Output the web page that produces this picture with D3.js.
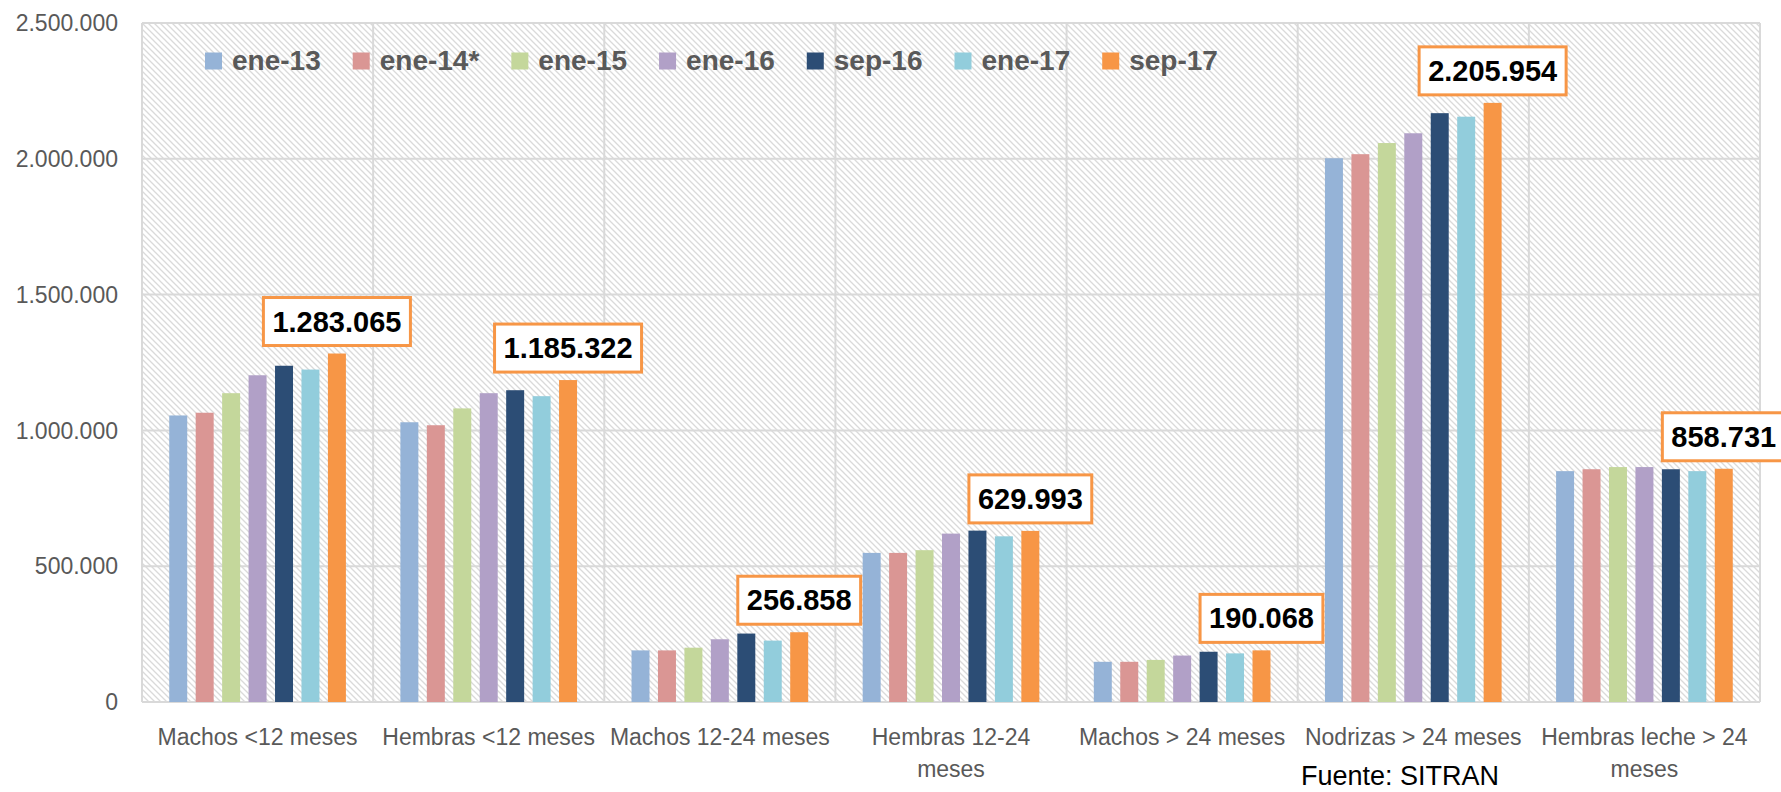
<!DOCTYPE html>
<meta charset="utf-8">
<script src="https://d3js.org/d3.v7.min.js"></script>
<style>
  body { margin: 0; background: #fff; }
  text { font-family: "Liberation Sans", Arial, sans-serif; }
</style>
<div id="chart"></div>
<script>

// categories on the x axis
var categories = ["Machos <12 meses", "Hembras <12 meses", "Machos 12-24 meses",
  "Hembras 12-24 meses", "Machos > 24 meses", "Nodrizas > 24 meses", "Hembras leche > 24 meses"];

// one series per census date
var series = ["ene-13", "ene-14*", "ene-15", "ene-16", "sep-16", "ene-17", "sep-17"];

var ene13  = [1055000, 1030000, 190000, 549000, 148000, 2002000, 850000];
var ene14  = [1065000, 1019000, 190000, 549000, 148000, 2017000, 857000];
var ene15  = [1137000, 1081000, 200000, 559000, 155000, 2058000, 865000];
var ene16  = [1203000, 1137000, 231000, 620000, 171000, 2094000, 865000];
var sep16  = [1238000, 1148000, 252000, 631000, 185000, 2168000, 857000];
var ene17  = [1224000, 1126000, 226000, 610000, 179000, 2155000, 850000];
var sep17  = [1283065, 1185322, 256858, 629993, 190068, 2205954, 858731];

var yTicks = [0, 500000, 1000000, 1500000, 2000000, 2500000];

var values = [ene13, ene14, ene15, ene16, sep16, ene17, sep17];
var colors = ["#95b3d7", "#da9694", "#c4d79b", "#b1a0c7", "#2c4d75", "#92cddc", "#f79646"];

var W = 1781, H = 792;
var margin = {top: 23, right: 21, bottom: 90, left: 142};
var width = W - margin.left - margin.right,
    height = H - margin.top - margin.bottom;

var locale = d3.formatLocale({decimal: ",", thousands: ".", grouping: [3], currency: ["", ""]});
var fmt = locale.format(",d");

var svg = d3.select("#chart").append("svg")
    .attr("width", W)
    .attr("height", H);

// hatch pattern for the plot background
var defs = svg.append("defs");
var pat = defs.append("pattern")
    .attr("id", "hatch")
    .attr("patternUnits", "userSpaceOnUse")
    .attr("width", 6).attr("height", 6);
pat.append("rect").attr("width", 6).attr("height", 6).attr("fill", "#fff");
pat.append("path")
    .attr("d", "M-1,-1 L7,7 M-1,5 L1,7 M5,-1 L7,1")
    .attr("stroke", "#dadada")
    .attr("stroke-width", 1.3);

var g = svg.append("g")
    .attr("transform", "translate(" + margin.left + "," + margin.top + ")");

var x0 = d3.scaleBand()
    .domain(categories)
    .range([0, width])
    .padding(0);

var x1 = d3.scaleBand()
    .domain(series)
    .range([0, x0.bandwidth()])
    .paddingInner(0.32)
    .paddingOuter(1.03);

var y = d3.scaleLinear()
    .domain([0, 2500000])
    .range([height, 0]);

g.append("rect")
    .attr("width", width)
    .attr("height", height)
    .attr("fill", "url(#hatch)");

// horizontal gridlines
g.append("g")
  .selectAll("line")
  .data(yTicks)
  .enter().append("line")
    .attr("x1", 0).attr("x2", width)
    .attr("y1", function(d) { return y(d); })
    .attr("y2", function(d) { return y(d); })
    .attr("stroke", "#d9d9d9")
    .attr("stroke-width", 2);

// vertical gridlines between categories
g.append("g")
  .selectAll("line")
  .data(categories.concat(["__end"]))
  .enter().append("line")
    .attr("x1", function(d, i) { return i * x0.step(); })
    .attr("x2", function(d, i) { return i * x0.step(); })
    .attr("y1", 0).attr("y2", height)
    .attr("stroke", "#d9d9d9")
    .attr("stroke-width", 2);

// y axis labels
g.append("g")
  .selectAll("text")
  .data(yTicks)
  .enter().append("text")
    .attr("x", 118 - margin.left)
    .attr("y", function(d) { return y(d); })
    .attr("dy", "0.36em")
    .attr("text-anchor", "end")
    .attr("font-size", 23)
    .attr("fill", "#595959")
    .text(function(d) { return fmt(d); });

// bars
var rows = categories.map(function(c, ci) {
  return series.map(function(s, si) { return {cat: c, key: s, i: si, value: values[si][ci]}; });
});

g.append("g")
  .selectAll("g")
  .data(rows)
  .enter().append("g")
    .attr("transform", function(d, i) { return "translate(" + x0(categories[i]) + ",0)"; })
  .selectAll("rect")
  .data(function(d) { return d; })
  .enter().append("rect")
    .attr("x", function(d) { return x1(d.key); })
    .attr("y", function(d) { return y(d.value); })
    .attr("width", x1.bandwidth())
    .attr("height", function(d) { return height - y(d.value); })
    .attr("fill", function(d) { return colors[d.i]; });

// value boxes on the last series
var lab = g.append("g")
  .selectAll("g")
  .data(categories)
  .enter().append("g")
    .attr("transform", function(d, i) {
      return "translate(" + (x0(d) + x1("sep-17") + x1.bandwidth() / 2) + "," + (y(sep17[i]) - 8) + ")";
    });

lab.append("text")
    .attr("text-anchor", "middle")
    .attr("y", -14)
    .attr("font-size", 29)
    .attr("font-weight", "bold")
    .attr("fill", "#000")
    .text(function(d, i) { return fmt(sep17[i]); });

lab.insert("rect", "text")
    .each(function() {
      var t = d3.select(this.parentNode).select("text").node().getComputedTextLength();
      d3.select(this)
        .attr("x", -t / 2 - 9)
        .attr("y", -48)
        .attr("width", t + 18)
        .attr("height", 48);
    })
    .attr("fill", "#fff")
    .attr("stroke", "#f79646")
    .attr("stroke-width", 3);

// x axis labels, wrapped to the category width
var xl = g.append("g")
  .selectAll("text")
  .data(categories)
  .enter().append("text")
    .attr("x", function(d) { return x0(d) + x0.bandwidth() / 2; })
    .attr("y", height + 35)
    .attr("dy", "0.36em")
    .attr("text-anchor", "middle")
    .attr("font-size", 23)
    .attr("fill", "#595959");

xl.each(function(d) {
  var text = d3.select(this), words = d.split(" "), line = [];
  var xx = text.attr("x");
  var tspan = text.append("tspan").attr("x", xx);
  words.forEach(function(w) {
    line.push(w);
    tspan.text(line.join(" "));
    if (tspan.node().getComputedTextLength() > 225 && line.length > 1) {
      line.pop();
      tspan.text(line.join(" "));
      line = [w];
      tspan = text.append("tspan").attr("x", xx).attr("dy", "1.4em").text(w);
    }
  });
});

// legend
var legend = g.append("g").attr("transform", "translate(" + (205 - margin.left) + "," + (61 - margin.top) + ")");
var lx = 0;
series.forEach(function(s, i) {
  var item = legend.append("g").attr("transform", "translate(" + lx + ",0)");
  item.append("rect")
      .attr("x", 0).attr("y", -8.5)
      .attr("width", 17).attr("height", 17)
      .attr("fill", colors[i]);
  var t = item.append("text")
      .attr("x", 27)
      .attr("y", 9)
      .attr("font-size", 28)
      .attr("font-weight", "bold")
      .attr("fill", "#595959")
      .text(s);
  lx += 27 + t.node().getComputedTextLength() + 32;
});

// source note
svg.append("text")
    .attr("x", 1301)
    .attr("y", 785)
    .attr("font-size", 27)
    .attr("fill", "#000")
    .text("Fuente: SITRAN");

</script>
